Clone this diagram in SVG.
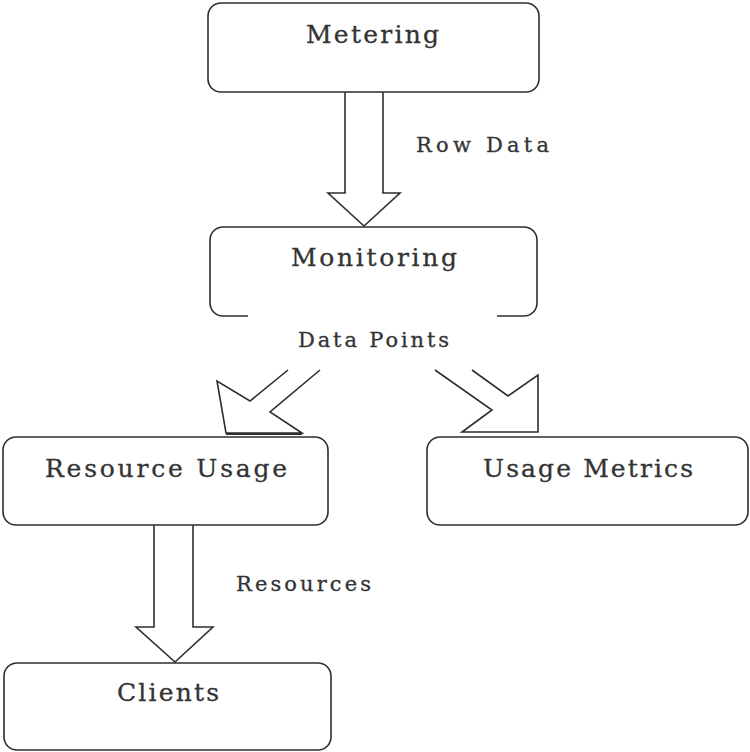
<svg xmlns="http://www.w3.org/2000/svg" width="750" height="752" viewBox="0 0 750 752">
  <style>
    .box { fill: none; stroke: #2e2e2e; stroke-width: 1.6; }
    .arrow { fill: none; stroke: #2e2e2e; stroke-width: 1.6; stroke-linejoin: miter; }
    .label { font-family: "DejaVu Serif", "Liberation Serif", serif; font-size: 25px; fill: #333333; stroke: #333333; stroke-width: 0.3; }
    .edge { font-family: "DejaVu Serif", "Liberation Serif", serif; font-size: 21px; fill: #333333; stroke: #333333; stroke-width: 0.3; }
  </style>
  <rect width="750" height="752" fill="#ffffff"/>

  <g id="metering">
    <rect class="box" x="208" y="3" width="331" height="89" rx="13"/>
    <text class="label" x="306" y="43" textLength="133" lengthAdjust="spacing">Metering</text>
  </g>

  <g id="monitoring">
    <path class="box" d="M 248 316 H 223 A 13 13 0 0 1 210 303 V 240 A 13 13 0 0 1 223 227 H 524 A 13 13 0 0 1 537 240 V 303 A 13 13 0 0 1 524 316 H 497"/>
    <text class="label" x="291" y="266" textLength="166" lengthAdjust="spacing">Monitoring</text>
  </g>

  <g id="resource-usage">
    <rect class="box" x="3" y="437" width="325" height="88" rx="13"/>
    <text class="label" x="45" y="477" textLength="242" lengthAdjust="spacing">Resource Usage</text>
  </g>

  <g id="usage-metrics">
    <rect class="box" x="427" y="437" width="321" height="88" rx="13"/>
    <text class="label" x="483" y="477" textLength="210" lengthAdjust="spacing">Usage Metrics</text>
  </g>

  <g id="clients">
    <rect class="box" x="4" y="663" width="327" height="87" rx="13"/>
    <text class="label" x="117" y="701" textLength="102" lengthAdjust="spacing">Clients</text>
  </g>

  <g id="connectors">
    <!-- Metering to Monitoring: block arrow -->
    <path class="arrow" d="M 345 92 V 193 H 328 L 364 226 L 400 193 H 383 V 92"/>
    <text class="edge" x="416" y="152" textLength="133" lengthAdjust="spacing">Row Data</text>

    <text class="edge" x="298" y="347" textLength="151" lengthAdjust="spacing">Data Points</text>

    <!-- Monitoring to Resource Usage: diagonal block arrow -->
    <path class="arrow" d="M 288 370 L 250 401 L 217 381 L 226 433 L 302 433 L 270 412 L 320 370"/>
    <line x1="226" y1="434" x2="302" y2="434" stroke="#2e2e2e" stroke-width="2"/>

    <!-- Monitoring to Usage Metrics: diagonal block arrow -->
    <path class="arrow" d="M 435 370 L 492 410 L 462 432 L 538 432 L 538 375 L 508 396 L 472 370"/>

    <!-- Resource Usage to Clients: block arrow -->
    <path class="arrow" d="M 154 525 V 627 H 136 L 175 662 L 213 627 H 193 V 525"/>
    <text class="edge" x="236" y="591" textLength="135" lengthAdjust="spacing">Resources</text>
  </g>
</svg>
